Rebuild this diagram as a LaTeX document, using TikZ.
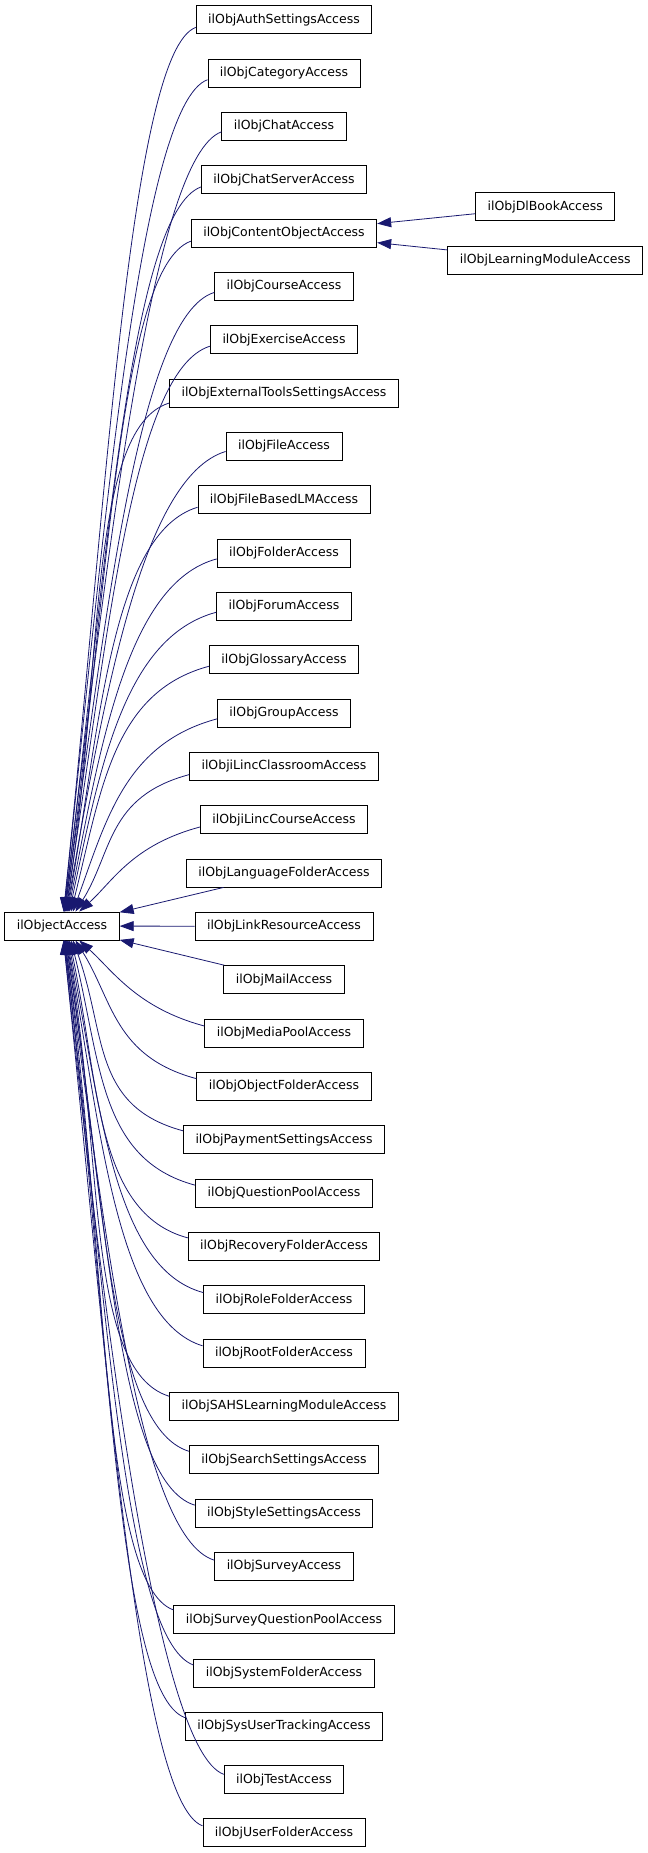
\documentclass[tikz,border=0pt]{standalone}
\usepackage{fontspec}
\newfontfamily\dejavu{DejaVu Sans}
\usetikzlibrary{positioning,arrows.meta}
\definecolor{edgeblue}{RGB}{25,25,112}

\begin{document}
\begin{tikzpicture}[x=1pt, y=1pt,
  cls/.style={draw, line width=0.9pt, minimum height=28pt, inner xsep=12pt, inner ysep=0pt, font=\dejavu\fontsize{12.5}{15}\selectfont},
  inh/.style={<-, draw=edgeblue, line width=0.8pt},
  >={Triangle[length=14pt, width=10pt]}, node distance=24.43pt]
  \useasboundingbox (0,0) rectangle (648,-1853);

  \node[cls] (obj) at (62,-926) {ilObjectAccess};

  \node[cls] (auth) at (284,-19.7) {ilObjAuthSettingsAccess};
  \node[cls, below=of auth] (category) {ilObjCategoryAccess};
  \node[cls, below=of category] (chat) {ilObjChatAccess};
  \node[cls, below=of chat] (chatserver) {ilObjChatServerAccess};
  \node[cls, below=of chatserver] (content) {ilObjContentObjectAccess};
  \node[cls, below=of content] (course) {ilObjCourseAccess};
  \node[cls, below=of course] (exercise) {ilObjExerciseAccess};
  \node[cls, below=of exercise] (exttools) {ilObjExternalToolsSettingsAccess};
  \node[cls, below=of exttools] (file) {ilObjFileAccess};
  \node[cls, below=of file] (filelm) {ilObjFileBasedLMAccess};
  \node[cls, below=of filelm] (folder) {ilObjFolderAccess};
  \node[cls, below=of folder] (forum) {ilObjForumAccess};
  \node[cls, below=of forum] (glossary) {ilObjGlossaryAccess};
  \node[cls, below=of glossary] (group) {ilObjGroupAccess};
  \node[cls, below=of group] (ilincroom) {ilObjiLincClassroomAccess};
  \node[cls, below=of ilincroom] (ilinccourse) {ilObjiLincCourseAccess};
  \node[cls, below=of ilinccourse] (langfolder) {ilObjLanguageFolderAccess};
  \node[cls, below=of langfolder] (linkres) {ilObjLinkResourceAccess};
  \node[cls, below=of linkres] (mail) {ilObjMailAccess};
  \node[cls, below=of mail] (mediapool) {ilObjMediaPoolAccess};
  \node[cls, below=of mediapool] (objfolder) {ilObjObjectFolderAccess};
  \node[cls, below=of objfolder] (payment) {ilObjPaymentSettingsAccess};
  \node[cls, below=of payment] (qpool) {ilObjQuestionPoolAccess};
  \node[cls, below=of qpool] (recovery) {ilObjRecoveryFolderAccess};
  \node[cls, below=of recovery] (rolefolder) {ilObjRoleFolderAccess};
  \node[cls, below=of rolefolder] (rootfolder) {ilObjRootFolderAccess};
  \node[cls, below=of rootfolder] (sahs) {ilObjSAHSLearningModuleAccess};
  \node[cls, below=of sahs] (search) {ilObjSearchSettingsAccess};
  \node[cls, below=of search] (stylesettings) {ilObjStyleSettingsAccess};
  \node[cls, below=of stylesettings] (survey) {ilObjSurveyAccess};
  \node[cls, below=of survey] (surveyqp) {ilObjSurveyQuestionPoolAccess};
  \node[cls, below=of surveyqp] (sysfolder) {ilObjSystemFolderAccess};
  \node[cls, below=of sysfolder] (systrack) {ilObjSysUserTrackingAccess};
  \node[cls, below=of systrack] (test) {ilObjTestAccess};
  \node[cls, below=of test] (userfolder) {ilObjUserFolderAccess};

  \node[cls] (dlbook) at (545.2,-206.7) {ilObjDlBookAccess};
  \node[cls] (lm) at (545.2,-260) {ilObjLearningModuleAccess};

  % classes above ilObjectAccess
  \draw[inh] (obj.84) .. controls +(84:400pt) and +(200:70pt) .. (auth.185);
  \draw[inh] (obj.83) .. controls +(84:380pt) and +(200:72pt) .. (category.185);
  \draw[inh] (obj.82) .. controls +(83:360pt) and +(200:74pt) .. (chat.185);
  \draw[inh] (obj.81) .. controls +(83:335pt) and +(200:76pt) .. (chatserver.185);
  \draw[inh] (obj.80) .. controls +(82:310pt) and +(200:78pt) .. (content.185);
  \draw[inh] (obj.79) .. controls +(82:285pt) and +(197:80pt) .. (course.185);
  \draw[inh] (obj.77) .. controls +(81:262pt) and +(197:83pt) .. (exercise.185);
  \draw[inh] (obj.75) .. controls +(81:238pt) and +(197:86pt) .. (exttools.185);
  \draw[inh] (obj.73) .. controls +(80:215pt) and +(197:88pt) .. (file.185);
  \draw[inh] (obj.70) .. controls +(80:190pt) and +(197:90pt) .. (filelm.185);
  \draw[inh] (obj.67) .. controls +(79:168pt) and +(195:93pt) .. (folder.185);
  \draw[inh] (obj.63) .. controls +(78:145pt) and +(195:96pt) .. (forum.185);
  \draw[inh] (obj.58) .. controls +(76:125pt) and +(195:100pt) .. (glossary.185);
  \draw[inh] (obj.53) .. controls +(70:98pt) and +(195:95pt) .. (group.185);
  \draw[inh] (obj.47) .. controls +(58:70pt) and +(195:85pt) .. (ilincroom.185);
  \draw[inh] (obj.40) .. controls +(42:45pt) and +(195:70pt) .. (ilinccourse.185);
  % nearly level with it
  \draw[inh] (obj) -- (langfolder);
  \draw[inh] (obj) -- (linkres);
  \draw[inh] (obj) -- (mail);
  % classes below ilObjectAccess
  \draw[inh] (obj.320) .. controls +(318:45pt) and +(165:70pt) .. (mediapool.175);
  \draw[inh] (obj.313) .. controls +(302:70pt) and +(165:85pt) .. (objfolder.175);
  \draw[inh] (obj.307) .. controls +(290:98pt) and +(165:95pt) .. (payment.175);
  \draw[inh] (obj.302) .. controls +(284:125pt) and +(165:100pt) .. (qpool.175);
  \draw[inh] (obj.297) .. controls +(282:145pt) and +(165:96pt) .. (recovery.175);
  \draw[inh] (obj.293) .. controls +(281:168pt) and +(165:93pt) .. (rolefolder.175);
  \draw[inh] (obj.290) .. controls +(280:190pt) and +(163:90pt) .. (rootfolder.175);
  \draw[inh] (obj.287) .. controls +(280:215pt) and +(163:88pt) .. (sahs.175);
  \draw[inh] (obj.285) .. controls +(279:238pt) and +(163:86pt) .. (search.175);
  \draw[inh] (obj.283) .. controls +(279:262pt) and +(163:83pt) .. (stylesettings.175);
  \draw[inh] (obj.281) .. controls +(278:285pt) and +(163:80pt) .. (survey.175);
  \draw[inh] (obj.280) .. controls +(278:310pt) and +(160:78pt) .. (surveyqp.175);
  \draw[inh] (obj.279) .. controls +(277:335pt) and +(160:76pt) .. (sysfolder.175);
  \draw[inh] (obj.278) .. controls +(277:360pt) and +(160:74pt) .. (systrack.175);
  \draw[inh] (obj.277) .. controls +(276:380pt) and +(160:72pt) .. (test.175);
  \draw[inh] (obj.276) .. controls +(276:400pt) and +(160:70pt) .. (userfolder.175);

  % content object subclasses
  \draw[inh] (content) -- (dlbook);
  \draw[inh] (content) -- (lm);
\end{tikzpicture}
\end{document}
